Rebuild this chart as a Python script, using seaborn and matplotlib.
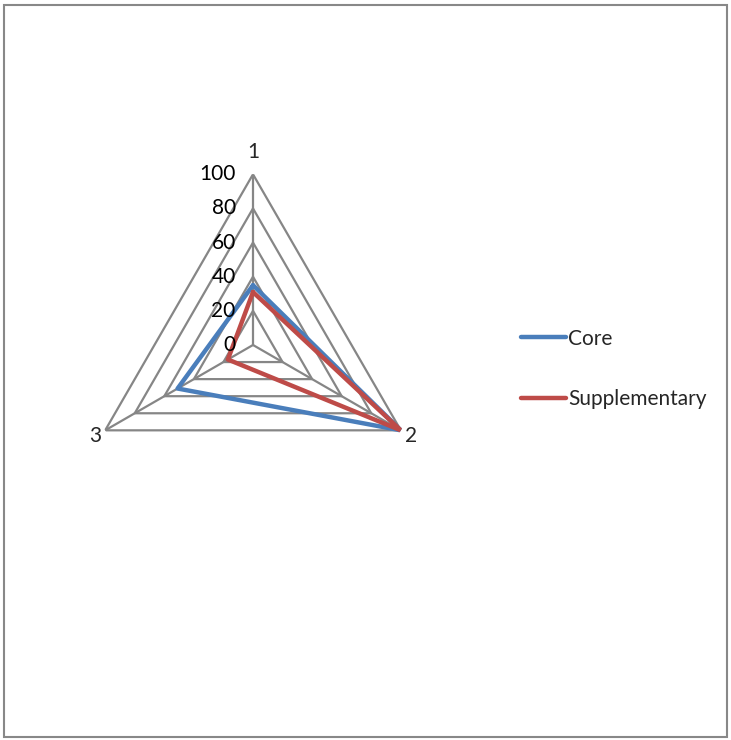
import numpy as np
import pandas as pd
import matplotlib
matplotlib.use("Agg")
import matplotlib.pyplot as plt
import seaborn as sns
from matplotlib.patches import Rectangle

# Data
axes_labels = ['1', '2', '3']
core = [35, 100, 51]
supplementary = [31, 100, 17]
ring_levels = [0, 20, 40, 60, 80, 100]

sns.set_style('white')
plt.rcParams['font.family'] = ['Lato', 'DejaVu Sans']

GRID = '#868686'
BLUE = '#4A7EBB'
RED = '#BE4B48'
FS = 15

n = len(axes_labels)
theta = np.linspace(0, 2 * np.pi, n, endpoint=False)
theta_closed = np.append(theta, theta[0])

fig = plt.figure(figsize=(7.31, 7.40), dpi=100)
ax = fig.add_axes([0.1126, 0.3031, 0.467, 0.4614], projection='polar')
ax.set_theta_offset(np.pi / 2)
ax.set_theta_direction(-1)
ax.set_ylim(0, 100)
ax.grid(False)
ax.spines['polar'].set_visible(False)
ax.set_xticks([])
ax.set_yticks([])
ax.patch.set_alpha(0)

# polygon rings and spokes
for lv in ring_levels[1:]:
    ax.plot(theta_closed, [lv] * (n + 1), color=GRID, lw=1.6, zorder=1)
for th in theta:
    ax.plot([th, th], [0, 100], color=GRID, lw=1.6, zorder=1)

# series
rows = []
for name, vals in [('Core', core), ('Supplementary', supplementary)]:
    closed = list(vals) + [vals[0]]
    for i, (t, v) in enumerate(zip(theta_closed, closed)):
        rows.append({'series': name, 'theta': t, 'value': v, 'order': i})
df = pd.DataFrame(rows)

sns.lineplot(data=df, x='theta', y='value', hue='series', sort=False,
             estimator=None, units='series', palette=[BLUE, RED],
             linewidth=3.2, ax=ax, zorder=3, legend=False)
ax.set_xlabel('')
ax.set_ylabel('')
ax.set_ylim(0, 100)

# radial labels
for lv in ring_levels:
    ax.annotate(str(lv), xy=(0, lv), xytext=(-12.5, 0), textcoords='offset points',
                ha='right', va='center', fontsize=FS, color='black')

# category labels
ax.text(theta[0], 113, axes_labels[0], ha='center', va='center', fontsize=FS)
ax.text(theta[1], 107, axes_labels[1], ha='center', va='center', fontsize=FS)
ax.text(theta[2], 107, axes_labels[2], ha='center', va='center', fontsize=FS)

# legend
handles = [plt.Line2D([], [], color=BLUE, lw=3.2), plt.Line2D([], [], color=RED, lw=3.2)]
fig.legend(handles, ['Core', 'Supplementary'], loc='center left',
           bbox_to_anchor=(521 / 731, 1 - 369 / 740), frameon=False,
           fontsize=FS, handlelength=2.15, handletextpad=0.1, labelspacing=1.95,
           borderpad=0, borderaxespad=0)

# outer frame
fig.patches.append(Rectangle((4 / 731, 3 / 740), 723 / 731, 732 / 740,
                             transform=fig.transFigure, fill=False,
                             edgecolor='#888888', lw=1.5))

fig.savefig('out.png', dpi=100)
